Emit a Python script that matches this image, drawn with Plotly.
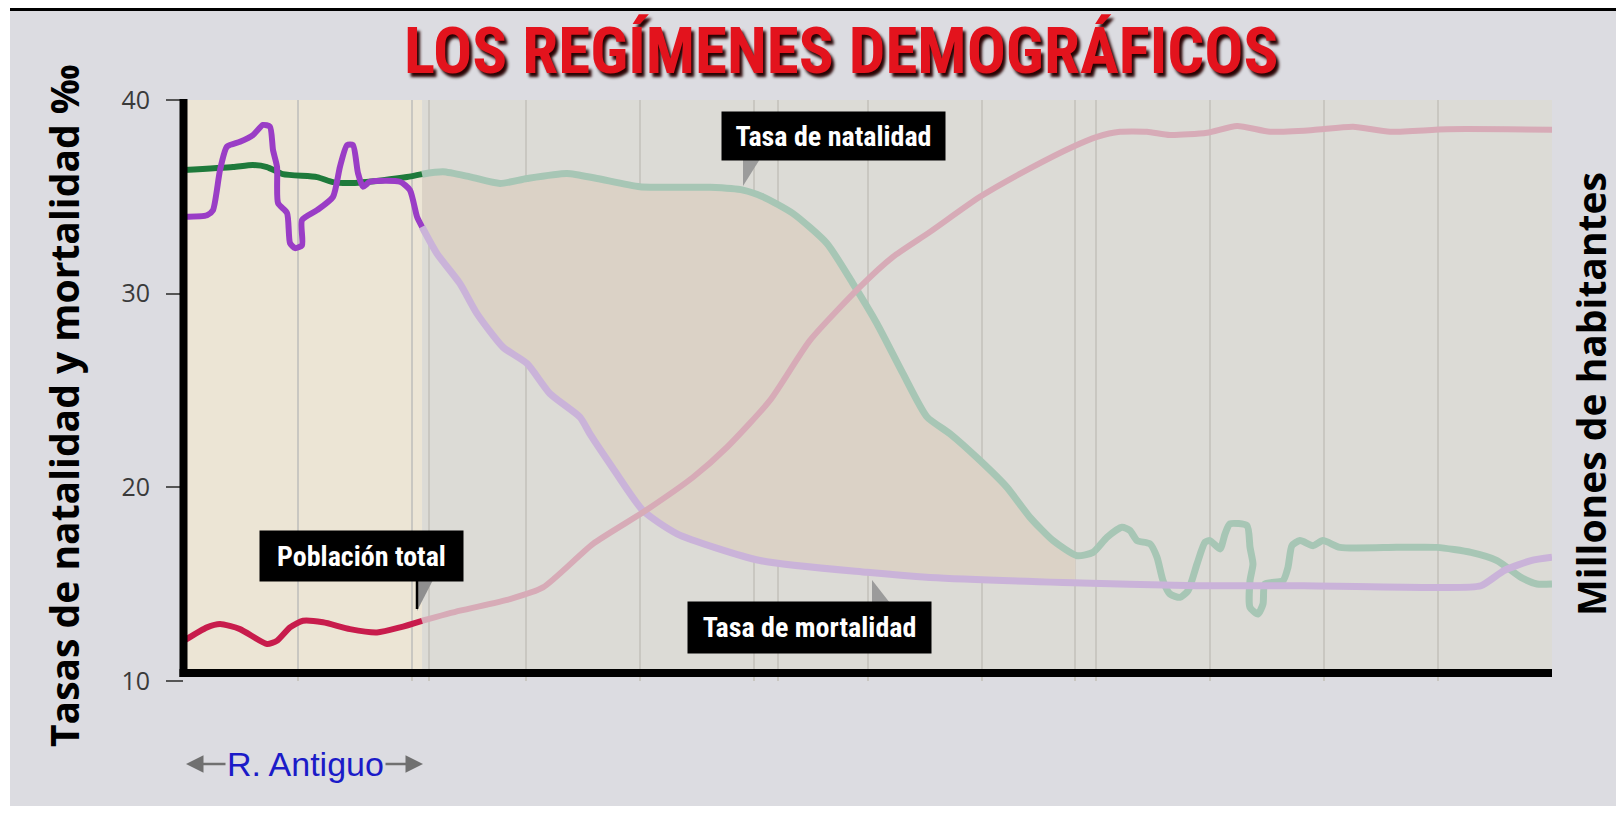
import numpy as np
import plotly.graph_objects as go

# ---------------- data (x in chart periods, y in per-mille) ----------------
y_ticks = [10, 20, 30, 40]
grid_x = [1, 2, 2.15, 3, 4, 5, 5.21, 6, 7, 7.82, 8, 9, 10, 11]
old_regime_end = 2.09
fill_end = 7.82

x_nat_old = [0.0, 0.43, 0.605, 0.728, 0.868, 1.167, 1.307, 1.456, 1.746, 1.956, 2.088]
y_nat_old = [36.38, 36.54, 36.64, 36.54, 36.17, 36.02, 35.76, 35.71, 35.86, 36.02, 36.17]

x_nat = [2.088, 2.272, 2.509, 2.772, 3.009, 3.360, 3.623, 4.000, 4.614, 4.904, 5.079, 5.342,
         5.640, 5.868, 6.079, 6.307, 6.518, 6.719, 6.982, 7.219, 7.421, 7.623, 7.833, 7.974,
         8.096, 8.228, 8.298, 8.360, 8.474, 8.535, 8.588, 8.649, 8.737, 8.807, 8.886, 8.956,
         9.000, 9.088, 9.132, 9.175, 9.325, 9.351, 9.377, 9.351, 9.351, 9.421, 9.465, 9.482,
         9.640, 9.684, 9.719, 9.789, 9.904, 9.991, 10.140, 10.640, 10.991, 11.289, 11.518,
         11.728, 11.868, 12.0]
y_nat = [36.17, 36.29, 36.03, 35.69, 35.95, 36.21, 35.95, 35.52, 35.49, 35.35, 35.0, 34.14,
         32.59, 30.52, 28.45, 25.87, 23.63, 22.77, 21.39, 20.0, 18.45, 17.25, 16.47, 16.64,
         17.42, 17.94, 17.77, 17.25, 17.08, 16.39, 15.18, 14.49, 14.32, 14.66, 16.04, 17.16,
         17.25, 16.82, 17.60, 18.11, 18.02, 16.90, 16.04, 15.18, 13.80, 13.46, 13.98, 15.01,
         15.18, 15.87, 16.99, 17.25, 16.99, 17.25, 16.90, 16.90, 16.90, 16.64, 16.22,
         15.35, 15.01, 15.01]

x_mort_old = [0.0, 0.202, 0.254, 0.316, 0.377, 0.491, 0.605, 0.693, 0.754, 0.781, 0.816, 0.825,
              0.904, 0.930, 0.974, 1.035, 1.035, 1.167, 1.307, 1.368, 1.430, 1.482, 1.526,
              1.570, 1.632, 1.895, 1.982, 2.044, 2.088]
y_mort_old = [33.97, 34.05, 34.31, 36.38, 37.59, 37.84, 38.19, 38.71, 38.62, 37.41, 36.55, 34.67,
              34.16, 32.61, 32.35, 32.50, 33.80, 34.31, 35.0, 36.55, 37.67, 37.67, 36.23,
              35.52, 35.78, 35.78, 35.35, 33.97, 33.45]

x_mort = [2.088, 2.219, 2.421, 2.570, 2.798, 3.009, 3.211, 3.474, 3.561, 3.737, 4.026, 4.325,
          5.053, 5.991, 6.544, 7.711, 8.886, 9.825, 10.991, 11.377, 11.579, 11.816, 12.0]
y_mort = [33.45, 32.07, 30.52, 28.97, 27.24, 26.39, 24.83, 23.62, 22.76, 21.21, 18.80, 17.60,
          16.22, 15.61, 15.35, 15.09, 14.92, 14.92, 14.83, 14.92, 15.70, 16.22, 16.39]

x_pop_old = [0.0, 0.202, 0.316, 0.491, 0.728, 0.816, 0.930, 1.044, 1.219, 1.456, 1.693, 1.895, 2.088]
y_pop_old = [12.08, 12.77, 12.94, 12.68, 11.91, 12.08, 12.77, 13.11, 13.03, 12.68, 12.51, 12.77, 13.11]

x_pop = [2.088, 2.421, 2.860, 3.149, 3.588, 4.026, 4.465, 4.763, 5.140, 5.491, 5.930, 6.219,
         6.544, 6.982, 7.421, 7.798, 8.009, 8.211, 8.447, 8.649, 8.974, 9.237, 9.526, 9.904,
         10.254, 10.579, 11.079, 12.0]
y_pop = [13.11, 13.63, 14.23, 14.83, 17.08, 18.71, 20.52, 22.07, 24.49, 27.59, 30.35, 31.90,
         33.19, 35.0, 36.47, 37.59, 38.10, 38.36, 38.36, 38.19, 38.31, 38.66, 38.36, 38.45,
         38.62, 38.36, 38.49, 38.47]

title_text = "LOS REGÍMENES DEMOGRÁFICOS"
left_title = "Tasas de natalidad y mortalidad ‰"
right_title = "Millones de habitantes"

# ---------------- layout geometry ----------------
W, H = 1624, 813
OFF = 8                      # page body margin of the html page
PL, PT = 184, 100            # plot-area left/top on screen
PW, PH = 1368, 581           # plot-area size
ML, MT = PL - OFF, PT - OFF
MR, MB = W - ML - PW, H - MT - PH
XR = [0, 12]
YR = [10, 40]

def px(x):   # screen pixel -> paper x
    return (x - PL) / PW

def py(y):   # screen pixel -> paper y
    return (PT + PH - y) / PH

def dx(x):   # screen pixel -> data x
    return XR[0] + (x - PL) / PW * (XR[1] - XR[0])

def dy(y):   # screen pixel -> data y
    return YR[1] - (y - PT) / PH * (YR[1] - YR[0])

NARROW = "Liberation Sans Narrow, Arial Narrow, Roboto Condensed, Liberation Sans, Arial"
SANS = "Open Sans, Noto Sans, DejaVu Sans"

fig = go.Figure()

# filled area between birth and death rates during the transition
xn = np.array(x_nat); yn = np.array(y_nat)
xm = np.array(x_mort); ym = np.array(y_mort)
mask_m = xm <= fill_end
nat_end = np.interp(fill_end, xn[:25], yn[:25])
mort_end = np.interp(fill_end, xm, ym)
fx = list(xn[:22]) + [fill_end, fill_end] + list(xm[mask_m][::-1])
fy = list(yn[:22]) + [nat_end, mort_end] + list(ym[mask_m][::-1])
fig.add_trace(go.Scatter(x=fx, y=fy, fill="toself", fillcolor="#dbd2c6",
                         line=dict(width=0), mode="lines", hoverinfo="skip", showlegend=False))

SM = 0.6
fig.add_trace(go.Scatter(x=x_nat, y=y_nat, mode="lines", showlegend=False,
                         line=dict(color="#a7c6b5", width=7, shape="spline", smoothing=SM)))
fig.add_trace(go.Scatter(x=x_mort, y=y_mort, mode="lines", showlegend=False,
                         line=dict(color="#cab3d9", width=7, shape="spline", smoothing=SM)))
fig.add_trace(go.Scatter(x=x_pop, y=y_pop, mode="lines", showlegend=False, yaxis="y2",
                         line=dict(color="#d7abb7", width=6, shape="spline", smoothing=SM)))

fig.add_trace(go.Scatter(x=x_nat_old, y=y_nat_old, mode="lines", showlegend=False,
                         line=dict(color="#1e7a3b", width=6, shape="spline", smoothing=SM)))
fig.add_trace(go.Scatter(x=x_mort_old, y=y_mort_old, mode="lines", showlegend=False,
                         line=dict(color="#9a3dc6", width=6, shape="spline", smoothing=SM)))
fig.add_trace(go.Scatter(x=x_pop_old, y=y_pop_old, mode="lines", showlegend=False, yaxis="y2",
                         line=dict(color="#c81c4c", width=6, shape="spline", smoothing=SM)))

shapes = [
    # page background
    dict(type="rect", xref="paper", yref="paper", x0=px(10), x1=px(W + 20), y0=py(806), y1=py(11),
         fillcolor="#dcdce1", line=dict(width=0), layer="below"),
    dict(type="line", xref="paper", yref="paper", x0=px(10), x1=px(W + 20), y0=py(9.5), y1=py(9.5),
         line=dict(color="black", width=3), layer="below"),
    # regime backgrounds
    dict(type="rect", xref="x", yref="y", x0=0, x1=old_regime_end, y0=dy(673), y1=40,
         fillcolor="#ece5d5", line=dict(width=0), layer="below"),
    dict(type="rect", xref="x", yref="y", x0=old_regime_end, x1=12, y0=dy(673), y1=40,
         fillcolor="#dcdbd6", line=dict(width=0), layer="below"),
    # axis lines
    dict(type="line", xref="paper", yref="paper", x0=px(183.5), x1=px(183.5), y0=py(677), y1=py(99),
         line=dict(color="black", width=8), layer="above"),
    dict(type="line", xref="paper", yref="paper", x0=px(179.5), x1=px(1552), y0=py(673), y1=py(673),
         line=dict(color="black", width=8), layer="above"),
]

def tri(p1, p2, p3, color):
    path = "M {} {} L {} {} L {} {} Z".format(dx(p1[0]), dy(p1[1]), dx(p2[0]), dy(p2[1]),
                                            dx(p3[0]), dy(p3[1]))
    return dict(type="path", xref="x", yref="y", path=path, fillcolor=color,
                line=dict(width=0), layer="above")

shapes.append(tri((743, 159), (760, 159), (743, 186), "#9b9b9b"))
shapes.append(tri((872, 603), (890, 603), (872, 580), "#9b9b9b"))
shapes.append(tri((417, 580), (433, 580), (417, 611), "#8f8f8f"))
shapes.append(dict(type="line", xref="x", yref="y", x0=dx(417), x1=dx(417), y0=dy(580), y1=dy(609),
                   line=dict(color="black", width=2.5), layer="above"))

C = dict(xanchor="center", yanchor="middle", showarrow=False)
annotations = [
    dict(text=title_text, xref="paper", yref="paper", x=px(841), y=py(51), **C,
         font=dict(family=NARROW, size=65, color="#e3131d", weight="bold",
                   shadow="3px 4px 3px #2a0404")),
    dict(text=left_title, xref="paper", yref="paper", x=px(63), y=py(406), textangle=-90, **C,
         font=dict(family=SANS, size=39, color="black", weight="bold")),
    dict(text=right_title, xref="paper", yref="paper", x=px(1590), y=py(394), textangle=-90, **C,
         font=dict(family=SANS, size=39, color="black", weight="bold")),
    # callout boxes
    dict(text="Tasa de natalidad", xref="x", yref="y", x=dx(833.5), y=dy(136), **C,
         bgcolor="black", width=223, height=48, borderpad=0,
         font=dict(family=NARROW, size=28, color="white", weight="bold")),
    dict(text="Tasa de mortalidad", xref="x", yref="y", x=dx(809.5), y=dy(627.5), **C,
         bgcolor="black", width=243, height=51, borderpad=0,
         font=dict(family=NARROW, size=28, color="white", weight="bold")),
    dict(text="Población total", xref="x", yref="y", x=dx(361.5), y=dy(556), **C,
         bgcolor="black", width=203, height=50, borderpad=0,
         font=dict(family=NARROW, size=28, color="white", weight="bold")),
    # R. Antiguo with arrows
    dict(text="R. Antiguo", xref="paper", yref="paper", x=px(305), y=py(764), **C,
         font=dict(family="Liberation Sans, Arial", size=34, color="#1b1bc8")),
    dict(text="", xref="paper", yref="paper", x=px(186), y=py(764), ax=41, ay=0, showarrow=True,
         xanchor="center", yanchor="middle",
         arrowhead=2, arrowsize=1.4, arrowwidth=2.5, arrowcolor="#707070"),
    dict(text="", xref="paper", yref="paper", x=px(423), y=py(764), ax=-39, ay=0, showarrow=True,
         xanchor="center", yanchor="middle",
         arrowhead=2, arrowsize=1.4, arrowwidth=2.5, arrowcolor="#707070"),
]

fig.update_layout(
    width=W, height=H, autosize=False,
    margin=dict(l=ML, r=MR, t=MT, b=MB, pad=0),
    paper_bgcolor="white", plot_bgcolor="rgba(0,0,0,0)",
    showlegend=False,
    xaxis=dict(range=XR, tickvals=grid_x, showticklabels=False, ticks="", showgrid=True,
               gridcolor="#c9c7c1", gridwidth=1.5, zeroline=False, showline=False,
               automargin=False, fixedrange=True),
    yaxis=dict(range=YR, tickvals=y_ticks, ticks="outside", ticklen=17, tickwidth=2,
               tickcolor="#555555", showgrid=False, zeroline=False, showline=False,
               tickfont=dict(family=SANS, size=25, color="#3a3a3a"), ticklabelstandoff=11,
               automargin=False),
    yaxis2=dict(range=YR, overlaying="y", side="right", showticklabels=False, ticks="",
                showgrid=False, zeroline=False, showline=False, automargin=False),
    shapes=shapes,
    annotations=annotations,
)

fig.write_html("out.html")
